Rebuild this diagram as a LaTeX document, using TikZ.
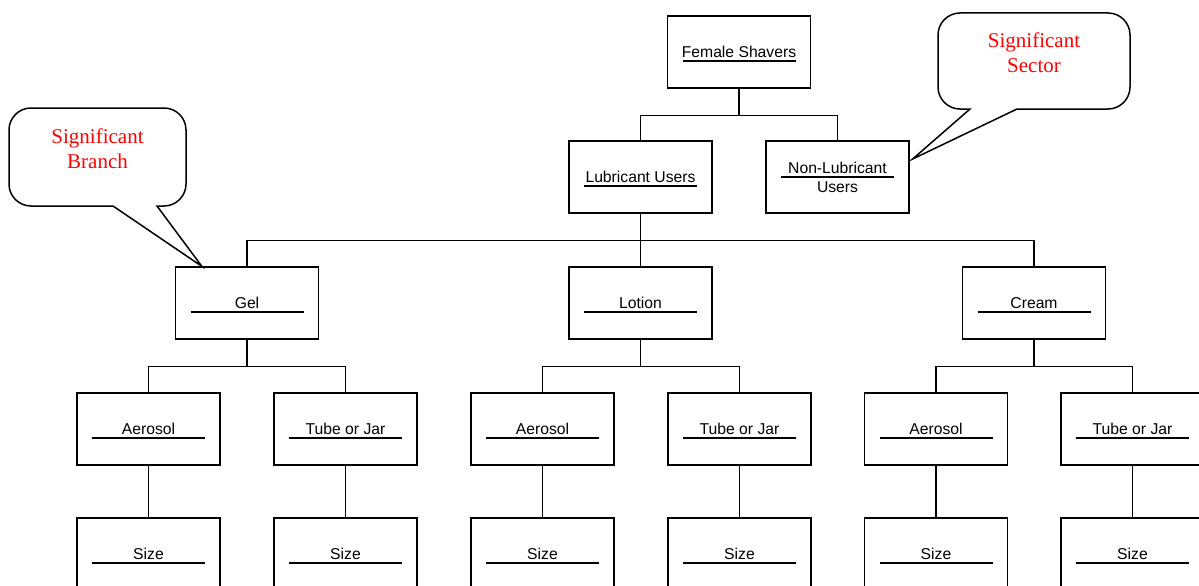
\documentclass[tikz,border=0pt]{standalone}
\usepackage{fontspec}
\setmainfont{Liberation Sans}
\newfontfamily\notefont{Liberation Serif}
\begin{document}
\begin{tikzpicture}[x=1pt,y=-1pt,line width=1.3pt,
    unit/.style={shape=rectangle, draw, minimum width=143pt, minimum height=72pt, inner sep=0pt, align=center,
      font=\fontsize{15.7}{19}\selectfont,
      path picture={\draw ([xshift=15pt,yshift=#1]path picture bounding box.west) -- ([xshift=-15pt,yshift=#1]path picture bounding box.east);}},
    unit/.default=-9pt,
    note/.style={align=center, text=red, font=\notefont\fontsize{21}{25}\selectfont},
    bubble/.style={draw, line width=1.5pt, fill=white}]
    \path[use as bounding box, clip] (0, 0) rectangle (1199, 586);
    % top of the tree
    \node (FemaleShavers) [unit] at (739, 52) {Female Shavers};
    \node (LubricantUsers) [unit] at (640.5, 177) {Lubricant Users};
    \node (NonLubricantUsers) [unit=0pt] at (837.5, 177) {Non-Lubricant\\Users};
    % lubricant types
    \node (Gel) [unit] at (247, 303) {Gel};
    \node (Lotion) [unit] at (640.5, 303) {Lotion};
    \node (Cream) [unit] at (1034, 303) {Cream};
    % packaging
    \node (GelAerosol) [unit] at (148.5, 429) {Aerosol};
    \node (GelTube) [unit] at (345.5, 429) {Tube or Jar};
    \node (LotionAerosol) [unit] at (542.5, 429) {Aerosol};
    \node (LotionTube) [unit] at (739.5, 429) {Tube or Jar};
    \node (CreamAerosol) [unit] at (936, 429) {Aerosol};
    \node (CreamTube) [unit] at (1132.5, 429) {Tube or Jar};
    % sizes
    \node (GelAerosolSize) [unit] at (148.5, 554) {Size};
    \node (GelTubeSize) [unit] at (345.5, 554) {Size};
    \node (LotionAerosolSize) [unit] at (542.5, 554) {Size};
    \node (LotionTubeSize) [unit] at (739.5, 554) {Size};
    \node (CreamAerosolSize) [unit] at (936, 554) {Size};
    \node (CreamTubeSize) [unit] at (1132.5, 554) {Size};
    % connectors
    \draw (FemaleShavers.south) -- ++(0, 27) coordinate (UsersBus);
    \draw (UsersBus) -| (LubricantUsers.north);
    \draw (UsersBus) -| (NonLubricantUsers.north);
    \draw (LubricantUsers.south) -- ++(0, 27) coordinate (TypeBus);
    \draw (TypeBus) -| (Gel.north);
    \draw (TypeBus) -| (Lotion.north);
    \draw (TypeBus) -| (Cream.north);
    \draw (Gel.south) -- ++(0, 27) coordinate (GelBus);
    \draw (GelBus) -| (GelAerosol.north);
    \draw (GelBus) -| (GelTube.north);
    \draw (Lotion.south) -- ++(0, 27) coordinate (LotionBus);
    \draw (LotionBus) -| (LotionAerosol.north);
    \draw (LotionBus) -| (LotionTube.north);
    \draw (Cream.south) -- ++(0, 27) coordinate (CreamBus);
    \draw (CreamBus) -| (CreamAerosol.north);
    \draw (CreamBus) -| (CreamTube.north);
    \draw (GelAerosol) -- (GelAerosolSize);
    \draw (GelTube) -- (GelTubeSize);
    \draw (LotionAerosol) -- (LotionAerosolSize);
    \draw (LotionTube) -- (LotionTubeSize);
    \draw (CreamAerosol) -- (CreamAerosolSize);
    \draw (CreamTube) -- (CreamTubeSize);
    % callouts
    \draw[bubble] (113, 206) [rounded corners=22pt] -- (9, 206) -- (9, 108) -- (186, 108) -- (186, 206)
        [sharp corners] -- (157, 206) -- ([xshift=27pt]Gel.north west) -- cycle;
    \node (BranchNote) [note] at (97.5, 148.5) {Significant\\Branch};
    \draw[bubble] (970, 109) [rounded corners=22pt] -- (938, 109) -- (938, 13) -- (1130, 13) -- (1130, 109)
        [sharp corners] -- (1017, 109) -- ([xshift=3pt,yshift=18pt]NonLubricantUsers.east) -- cycle;
    \node (SectorNote) [note] at (1034, 52.7) {Significant\\Sector};
\end{tikzpicture}
\end{document}
